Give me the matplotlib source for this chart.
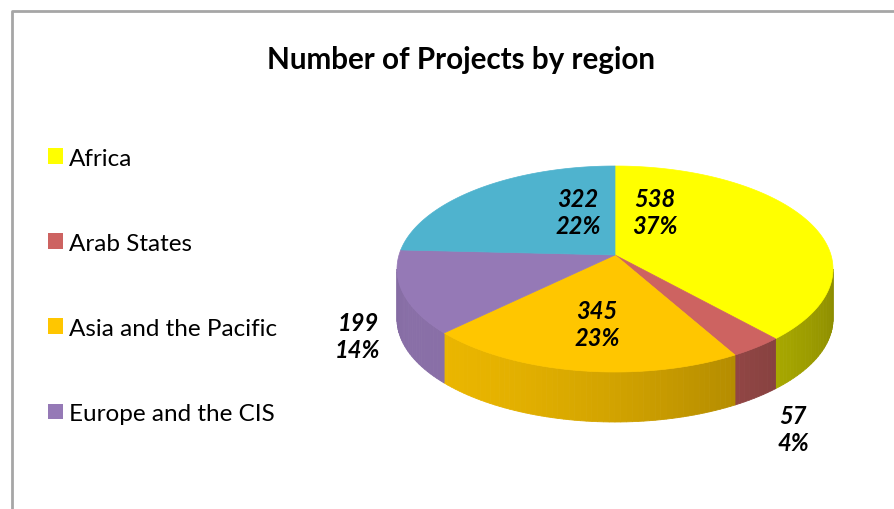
import numpy as np
import matplotlib.pyplot as plt
from matplotlib.patches import Polygon, Patch
from matplotlib.colors import to_rgb

regions = ["Africa", "Arab States", "Asia and the Pacific", "Europe and the CIS",
           "Latin America and the Caribbean"]
projects = [538, 57, 345, 199, 322]
percents = ["37%", "4%", "23%", "14%", "22%"]
top_colors = ["#FFFF00", "#CD6361", "#FFC600", "#9579B6", "#4FB3CE"]

# legend box is clipped in the original: only the first four entries show
n_legend = 4

# layout of the projected pie, in pixels
W, H = 895, 510
cx, cy = 615, 270          # centre of the rim ellipse
apex = (615, 256)          # where the slices meet (perspective)
rx, ry = 218, 103
depth = 50
label_xy = [(655, 213), (793, 430), (597, 325), (358, 337), (578, 213)]

plt.rcParams['font.family'] = ['Lato', 'DejaVu Sans']

fig = plt.figure(figsize=(W / 100, H / 100), dpi=100)
ax = fig.add_axes([0, 0, 1, 1])
ax.set_xlim(0, W)
ax.set_ylim(H, 0)
ax.axis("off")

# chart border (runs off the right and bottom)
ax.plot([12, 12, W + 5], [H + 5, 12, 12], color="#A6A6A6", lw=2, solid_capstyle="butt")


def rim(t):
    t = np.radians(t)
    return cx + rx * np.cos(t), cy - ry * np.sin(t)


def shade(col, f):
    r, g, b = to_rgb(col)
    return (r * f, g * f, b * f)


total = sum(projects)
fracs = np.array(projects) / total
starts = 90 - 360 * np.concatenate([[0], np.cumsum(fracs)[:-1]])
ends = starts - 360 * fracs

# side walls, front half only (standard angles -180..0)
for s, e, col in zip(starts, ends, top_colors):
    lo, hi = max(e, -180), min(s, 0)
    if lo >= hi:
        continue
    ts = np.linspace(hi, lo, max(int((hi - lo) / 1.5), 2) + 1)
    for t0, t1 in zip(ts[:-1], ts[1:]):
        x0, y0 = rim(t0)
        x1, y1 = rim(t1)
        tm = np.radians((t0 + t1) / 2 + 360)
        f = 0.72 + 0.2 * np.cos(tm - np.radians(210))
        ax.add_patch(Polygon([(x0, y0), (x1, y1), (x1, y1 + depth), (x0, y0 + depth)],
                             closed=True, fc=shade(col, f), ec=shade(col, f), lw=0.6))

# top faces
for s, e, col in zip(starts, ends, top_colors):
    ts = np.linspace(s, e, max(int((s - e) / 1.0), 2))
    xs, ys = rim(ts)
    pts = [apex] + list(zip(xs, ys))
    ax.add_patch(Polygon(pts, closed=True, fc=col, ec=col, lw=0.5))

# data labels
for (lx, ly), n, p in zip(label_xy, projects, percents):
    ax.text(lx, ly, f"{n}\n{p}", ha="center", va="center", fontsize=17,
            fontweight="bold", fontstyle="italic", linespacing=1.2, color="black")

ax.text(461, 60, "Number of Projects by region", ha="center", va="center",
        fontsize=21.3, fontweight="bold")

handles = [Patch(fc=c, ec="none") for c in top_colors[:n_legend]]
fig.legend(handles, regions[:n_legend], loc="upper left", bbox_to_anchor=(0.040, 0.732),
           frameon=False, fontsize=17.5, handlelength=0.62, handleheight=0.62,
           handletextpad=0.25, labelspacing=2.635, borderpad=0)

fig.savefig("out.png", dpi=100)
